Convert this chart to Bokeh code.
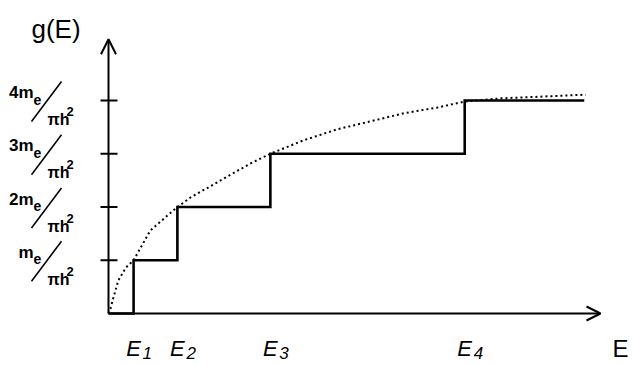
from bokeh.plotting import figure
from bokeh.models import Range1d, Arrow, OpenHead
from bokeh.core.properties import value
from bokeh.embed import file_html
from bokeh.resources import INLINE

# Density of states of a 2D electron gas: one step of m_e/(pi hbar^2) per subband,
# with the 3D (square-root) density of states drawn dotted for comparison.
levels = [1, 2, 3, 4]
numerators = ["m", "2m", "3m", "4m"]
subband_energies = [0.51, 1.40, 3.29, 7.24]
subband_index = ["1", "2", "3", "4"]
step_end = 9.67

bulk_E = [0.0, 0.04, 0.10, 0.20, 0.35, 0.51, 0.85, 1.40, 1.67, 2.28, 2.89, 3.29,
          3.96, 4.65, 5.33, 6.00, 6.69, 7.24, 7.97, 8.98, 9.70]
bulk_g = [0.0, 0.09, 0.30, 0.62, 0.86, 1.00, 1.56, 2.00, 2.18, 2.50, 2.82, 3.00,
          3.25, 3.46, 3.61, 3.76, 3.87, 3.98, 4.04, 4.08, 4.11]

E_MAX = 10.0   # end of the energy axis arrow
G_MAX = 5.15   # end of the g(E) axis arrow

W, H = 635, 365
ORIGIN_X, ORIGIN_Y = 108, 313   # canvas position of (0, 0)
PX_PER_E = 49.2
PX_PER_G = 53.25

FONT = value("Liberation Sans")

p = figure(width=W, height=H, output_backend="svg", toolbar_location=None,
           x_range=Range1d(-ORIGIN_X / PX_PER_E, (W - ORIGIN_X) / PX_PER_E),
           y_range=Range1d(-(H - ORIGIN_Y) / PX_PER_G, ORIGIN_Y / PX_PER_G),
           x_axis_type=None, y_axis_type=None, min_border=0)
p.grid.visible = False
p.outline_line_color = None
p.background_fill_color = "white"
p.border_fill_color = "white"

# axes with open arrow heads
p.add_layout(Arrow(end=OpenHead(size=14, line_width=2, line_color="black"),
                   x_start=0, y_start=0, x_end=E_MAX, y_end=0,
                   line_width=2, line_color="black"))
p.add_layout(Arrow(end=OpenHead(size=15, line_width=2, line_color="black"),
                   x_start=0, y_start=0, x_end=0, y_end=G_MAX,
                   line_width=2, line_color="black"))

# tick marks crossing the g axis
p.segment(x0=[-8 / PX_PER_E] * len(levels), y0=levels,
          x1=[9 / PX_PER_E] * len(levels), y1=levels,
          line_width=2, line_color="black")

# staircase density of states
step_x, step_y = [0.0], [0.0]
for e, g in zip(subband_energies, levels):
    step_x += [e, e]
    step_y += [g - 1, g]
step_x.append(step_end)
step_y.append(levels[-1])
p.line(step_x, step_y, line_width=2.6, line_color="black", line_join="miter")

# bulk density of states
p.line(bulk_E, bulk_g, line_width=2, line_color="black", line_dash="2 3")

# tick labels:  n m_e / (pi h^2)
zeros = [0] * len(levels)
p.text(x=zeros, y=levels, text=numerators, x_offset=-75, y_offset=-8,
       text_align="right", text_baseline="alphabetic", text_font=FONT,
       text_font_size="17px", text_font_style="bold", text_color="black")
p.text(x=zeros, y=levels, text=["e"] * len(levels), x_offset=-75, y_offset=-1,
       text_align="left", text_baseline="alphabetic", text_font=FONT,
       text_font_size="14px", text_font_style="bold", text_color="black")
p.segment(x0=[-47 / PX_PER_E] * len(levels), y0=[g + 19 / PX_PER_G for g in levels],
          x1=[-77 / PX_PER_E] * len(levels), y1=[g - 21 / PX_PER_G for g in levels],
          line_width=1.6, line_color="black")
p.text(x=zeros, y=levels, text=["\u03c0h"] * len(levels), x_offset=-61, y_offset=19,
       text_align="left", text_baseline="alphabetic", text_font=FONT,
       text_font_size="16px", text_font_style="bold", text_color="black")
p.text(x=zeros, y=levels, text=["2"] * len(levels), x_offset=-42, y_offset=11,
       text_align="left", text_baseline="alphabetic", text_font=FONT,
       text_font_size="13px", text_font_style="bold", text_color="black")

# subband edge labels E_n
p.text(x=subband_energies, y=zeros, text=["E"] * len(levels), x_offset=0, y_offset=35,
       text_align="center", text_baseline="alphabetic", text_font=FONT,
       text_font_size="22px", text_font_style="italic", text_color="black")
p.text(x=subband_energies, y=zeros, text=subband_index, x_offset=9, y_offset=39,
       text_align="left", text_baseline="alphabetic", text_font=FONT,
       text_font_size="17px", text_font_style="italic", text_color="black")

# axis titles
p.text(x=[0], y=[G_MAX], text=["g(E)"], x_offset=-77, y_offset=-10,
       text_align="left", text_baseline="alphabetic", text_font=FONT,
       text_font_size="26px", text_color="black")
p.text(x=[E_MAX], y=[0], text=["E"], x_offset=12, y_offset=35,
       text_align="left", text_baseline="alphabetic", text_font=FONT,
       text_font_size="24px", text_color="black")

open("out.html", "w").write(file_html(p, INLINE))
